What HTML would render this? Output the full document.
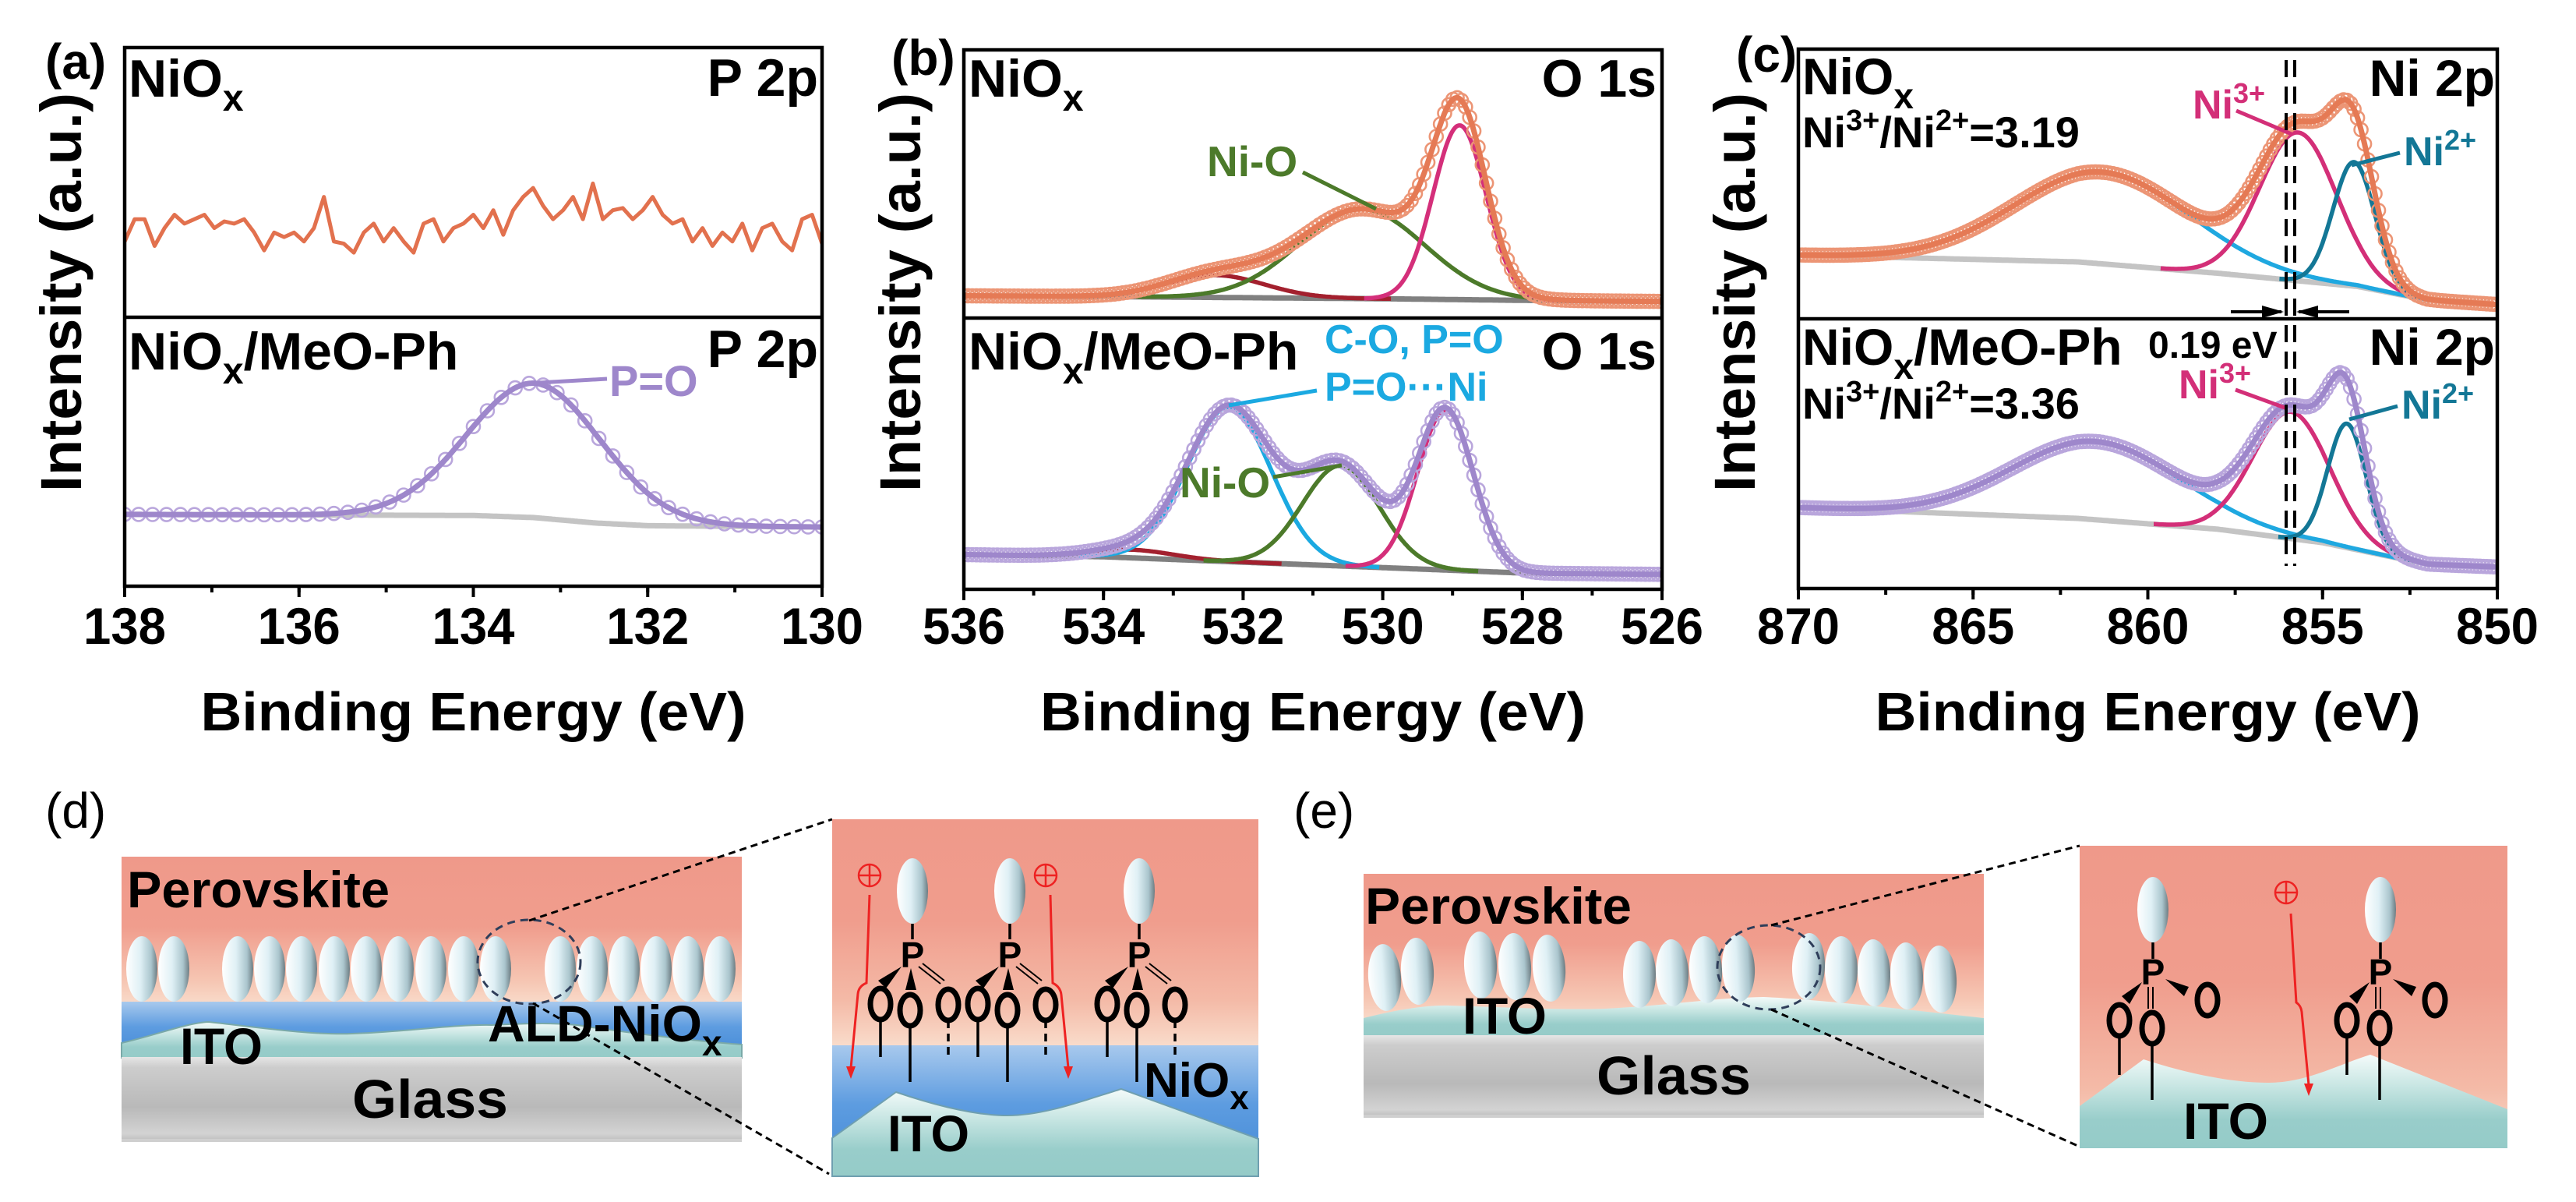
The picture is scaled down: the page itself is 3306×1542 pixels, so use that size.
<!DOCTYPE html>
<html><head><meta charset="utf-8"><title>XPS and schematic</title>
<style>
html,body{margin:0;padding:0;background:#fff;}
svg{display:block;font-family:"Liberation Sans",Arial,sans-serif;}
text{font-weight:bold;}
</style></head>
<body>
<svg id="chart" xmlns="http://www.w3.org/2000/svg" width="3306" height="1542" viewBox="0 0 3306 1542">
<defs>
<linearGradient id="ellG" x1="0" y1="0" x2="1" y2="0">
<stop offset="0" stop-color="#ffffff"/><stop offset="0.45" stop-color="#dff0f5"/><stop offset="0.8" stop-color="#aac5cd"/><stop offset="1" stop-color="#6d7c82"/></linearGradient>
<linearGradient id="perovD" x1="0" y1="0" x2="0" y2="1">
<stop offset="0" stop-color="#ef998a"/><stop offset="0.45" stop-color="#f09d8d"/><stop offset="0.8" stop-color="#f6c6b3"/><stop offset="1" stop-color="#fae3d3"/></linearGradient>
<linearGradient id="perovIn" x1="0" y1="0" x2="0" y2="1">
<stop offset="0" stop-color="#ef998a"/><stop offset="0.45" stop-color="#f09d8d"/><stop offset="0.8" stop-color="#f4baa7"/><stop offset="1" stop-color="#f9dccb"/></linearGradient>
<linearGradient id="blueG" x1="0" y1="0" x2="0" y2="1">
<stop offset="0" stop-color="#a8c9ed"/><stop offset="0.45" stop-color="#5d9ce0"/><stop offset="1" stop-color="#4389d6"/></linearGradient>
<linearGradient id="tealG" x1="0" y1="0" x2="0" y2="1">
<stop offset="0" stop-color="#f4fbfa"/><stop offset="0.35" stop-color="#c6e5e2"/><stop offset="0.7" stop-color="#98cdca"/><stop offset="1" stop-color="#95cbc8"/></linearGradient>
<linearGradient id="glassG" x1="0" y1="0" x2="0" y2="1">
<stop offset="0" stop-color="#e6e6e6"/><stop offset="0.12" stop-color="#cdcdcd"/><stop offset="0.6" stop-color="#b9b9b9"/><stop offset="0.92" stop-color="#d3d3d3"/><stop offset="1" stop-color="#bdbdbd"/></linearGradient>
<clipPath id="clipA"><rect x="160" y="61" width="895" height="691"/></clipPath>
<clipPath id="clipB"><rect x="1237" y="64" width="896" height="692"/></clipPath>
<clipPath id="clipC"><rect x="2308" y="63" width="897" height="692"/></clipPath>
</defs>

<text x="58" y="101" font-size="64">(a)</text>
<text x="1144" y="96" font-size="64">(b)</text>
<text x="2228" y="92" font-size="64">(c)</text>
<text x="58" y="1062" font-size="64" style="font-weight:normal">(d)</text>
<text x="1660" y="1062" font-size="64" style="font-weight:normal">(e)</text>

<g id="charts"></g>

<g font-size="68">
<text x="165" y="124">NiO<tspan font-size="48" dy="18">x</tspan></text>
<text x="1050" y="123" text-anchor="end">P 2p</text>
<text x="165" y="474">NiO<tspan font-size="48" dy="18">x</tspan><tspan dy="-18">/MeO-Ph</tspan></text>
<text x="1050" y="471" text-anchor="end">P 2p</text>
<text x="782" y="508" font-size="56" fill="#9e87cb">P=O</text>
<line x1="691" y1="491" x2="779" y2="486" stroke="#9e87cb" stroke-width="5"/>
</g>
<g font-size="68">
<text x="1243" y="124">NiO<tspan font-size="48" dy="18">x</tspan></text>
<text x="2126" y="124" text-anchor="end">O 1s</text>
<text x="1243" y="474">NiO<tspan font-size="48" dy="18">x</tspan><tspan dy="-18">/MeO-Ph</tspan></text>
<text x="2126" y="474" text-anchor="end">O 1s</text>
<text x="1549" y="226" font-size="55" fill="#4c7a2a">Ni-O</text>
<line x1="1672" y1="221" x2="1766" y2="268" stroke="#4c7a2a" stroke-width="5"/>
<text x="1700" y="453" font-size="52" fill="#1ba9e1">C-O, P=O</text>
<text x="1700" y="514" font-size="52" fill="#1ba9e1">P=O···Ni</text>
<line x1="1690" y1="501" x2="1577" y2="520" stroke="#1ba9e1" stroke-width="5"/>
<text x="1514" y="638" font-size="55" fill="#4c7a2a">Ni-O</text>
<line x1="1634" y1="612" x2="1722" y2="597" stroke="#4c7a2a" stroke-width="5"/>
</g>
<g font-size="66">
<text x="2313" y="121">NiO<tspan font-size="46" dy="18">x</tspan></text>
<text x="3202" y="123" text-anchor="end">Ni 2p</text>
<text x="2313" y="189" font-size="56">Ni<tspan font-size="38" dy="-22">3+</tspan><tspan dy="22">/Ni</tspan><tspan font-size="38" dy="-22">2+</tspan><tspan dy="22">=3.19</tspan></text>
<text x="2313" y="468">NiO<tspan font-size="46" dy="18">x</tspan><tspan dy="-18">/MeO-Ph</tspan></text>
<text x="3202" y="468" text-anchor="end">Ni 2p</text>
<text x="2313" y="537" font-size="56">Ni<tspan font-size="38" dy="-22">3+</tspan><tspan dy="22">/Ni</tspan><tspan font-size="38" dy="-22">2+</tspan><tspan dy="22">=3.36</tspan></text>
<text x="2757" y="459" font-size="48">0.19 eV</text>
<text x="2814" y="152" font-size="52" fill="#d32f78">Ni<tspan font-size="36" dy="-20">3+</tspan></text>
<line x1="2870" y1="142" x2="2941" y2="172" stroke="#d32f78" stroke-width="5"/>
<text x="3085" y="212" font-size="52" fill="#137796">Ni<tspan font-size="36" dy="-20">2+</tspan></text>
<line x1="3080" y1="196" x2="3018" y2="212" stroke="#137796" stroke-width="5"/>
<text x="2796" y="511" font-size="52" fill="#d32f78">Ni<tspan font-size="36" dy="-20">3+</tspan></text>
<line x1="2869" y1="500" x2="2935" y2="524" stroke="#d32f78" stroke-width="5"/>
<text x="3082" y="537" font-size="52" fill="#137796">Ni<tspan font-size="36" dy="-20">2+</tspan></text>
<line x1="3077" y1="521" x2="3015" y2="538" stroke="#137796" stroke-width="5"/>
<line x1="2934" y1="77" x2="2934" y2="726" stroke="#000" stroke-width="4" stroke-dasharray="22,12"/>
<line x1="2945" y1="77" x2="2945" y2="726" stroke="#000" stroke-width="4" stroke-dasharray="22,12"/>
<line x1="2863" y1="400" x2="2928" y2="400" stroke="#000" stroke-width="4"/>
<polygon points="2931,400 2903,392 2903,408" fill="#000"/>
<line x1="3015" y1="400" x2="2950" y2="400" stroke="#000" stroke-width="4"/>
<polygon points="2947,400 2975,392 2975,408" fill="#000"/>
</g>

<g>
<rect x="156" y="1099" width="796" height="200" fill="url(#perovD)"/>
<rect x="156" y="1285" width="796" height="72" fill="url(#blueG)"/>
<path d="M156,1338 C200,1328 240,1312 268,1311 C330,1318 400,1328 452,1326 C520,1324 580,1314 631,1315 C690,1312 730,1312 760,1318 C830,1328 900,1336 952,1340 L952,1357 L156,1357 Z" fill="url(#tealG)" stroke="#7aa9a8" stroke-width="2"/>
<rect x="156" y="1356" width="796" height="107" fill="url(#glassG)"/>
<line x1="156" y1="1463" x2="952" y2="1463" stroke="#cfcfcf" stroke-width="4"/>
<g id="dEllipses"></g>
<ellipse cx="679" cy="1234" rx="66" ry="54" fill="none" stroke="#2f3e5a" stroke-width="3" stroke-dasharray="10,7"/>
<line x1="679" y1="1181" x2="1068" y2="1051" stroke="#000" stroke-width="3" stroke-dasharray="9,6"/>
<line x1="684" y1="1287" x2="1064" y2="1506" stroke="#000" stroke-width="3" stroke-dasharray="9,6"/>
<text x="163" y="1164" font-size="66" textLength="337" lengthAdjust="spacingAndGlyphs">Perovskite</text>
<text x="231" y="1365" font-size="66" textLength="106" lengthAdjust="spacingAndGlyphs">ITO</text>
<text x="626" y="1336" font-size="66">ALD-NiO<tspan font-size="46" dy="18">x</tspan></text>
<text x="452" y="1434" font-size="70" textLength="200" lengthAdjust="spacingAndGlyphs">Glass</text>

<rect x="1068" y="1051" width="547" height="291" fill="url(#perovIn)"/>
<rect x="1068" y="1341" width="547" height="168" fill="url(#blueG)"/>
<path d="M1068,1460 L1150,1401 C1200,1418 1250,1431 1293,1431 C1340,1431 1390,1412 1439,1397 L1615,1461 L1615,1509 L1068,1509 Z" fill="url(#tealG)" stroke="#6f9fb0" stroke-width="2"/>
<g id="dInset"></g>
<text x="1468" y="1407" font-size="62">NiO<tspan font-size="44" dy="16">x</tspan></text>
<text x="1139" y="1477" font-size="66" textLength="105" lengthAdjust="spacingAndGlyphs">ITO</text>
</g>

<g>
<rect x="1750" y="1121" width="796" height="200" fill="url(#perovD)"/>
<path d="M1750,1306 C1790,1296 1830,1289 1861,1290 C1930,1292 2000,1296 2060,1294 C2140,1290 2200,1280 2263,1279 C2330,1282 2420,1292 2546,1306 L2546,1329 L1750,1329 Z" fill="url(#tealG)"/>
<rect x="1750" y="1328" width="796" height="104" fill="url(#glassG)"/>
<line x1="1750" y1="1432" x2="2546" y2="1432" stroke="#cfcfcf" stroke-width="4"/>
<g id="eEllipses"></g>
<ellipse cx="2270" cy="1241" rx="66" ry="54" fill="none" stroke="#2f3e5a" stroke-width="3" stroke-dasharray="10,7"/>
<line x1="2273" y1="1187" x2="2669" y2="1085" stroke="#000" stroke-width="3" stroke-dasharray="9,6"/>
<line x1="2273" y1="1295" x2="2669" y2="1471" stroke="#000" stroke-width="3" stroke-dasharray="9,6"/>
<text x="1752" y="1185" font-size="66" textLength="342" lengthAdjust="spacingAndGlyphs">Perovskite</text>
<text x="1877" y="1326" font-size="66" textLength="108" lengthAdjust="spacingAndGlyphs">ITO</text>
<text x="2049" y="1404" font-size="70" textLength="198" lengthAdjust="spacingAndGlyphs">Glass</text>

<rect x="2669" y="1085" width="549" height="388" fill="url(#perovIn)"/>
<path d="M2669,1419 L2751,1359 C2800,1375 2860,1389 2911,1389 C2960,1389 3000,1366 3042,1353 L3218,1423 L3218,1473 L2669,1473 Z" fill="url(#tealG)"/>
<g id="eInset"></g>
<text x="2802" y="1461" font-size="66" textLength="109" lengthAdjust="spacingAndGlyphs">ITO</text>
</g>
</svg>

<script>
const aTopCounts=[460,510,510,450,490,520,500,510,520,490,505,500,510,480,440,480,470,480,460,490,560,460,455,435,480,500,460,490,460,435,500,510,460,490,500,520,490,530,475,530,560,580,540,510,530,560,510,590,510,530,535,510,530,560,520,500,510,460,490,450,480,460,500,440,490,500,460,440,510,520,455];
const aBotBgE=[138,134,133.3,132.6,132,130];
const aBotBgV=[0.267,0.263,0.255,0.235,0.225,0.22];
const aBotCenters=[133.3];
const aBotHeights=[0.5];
const aBotWidths=[0.77];
const bTopBgE=[536,534,530,528,526];
const bTopBgV=[0.083,0.08,0.072,0.066,0.062];
const bTopCenters=[532.4,530.3,528.9];
const bTopHeights=[0.083,0.333,0.65];
const bTopWidths=[0.7,0.9,0.38];
const bBotBgE=[536,534,532,530,528,526];
const bBotBgV=[0.128,0.12,0.1,0.08,0.06,0.055];
const bBotCenters=[533.6,532.2,530.6,529.1];
const bBotHeights=[0.03,0.57,0.37,0.59];
const bBotWidths=[0.6,0.6,0.55,0.4];
const cTopBgE=[870,862,858,854,852,850];
const cTopBgV=[0.236,0.211,0.169,0.12,0.07,0.053];
const cTopCenters=[861.3,855.7,854.1];
const cTopHeights=[0.34,0.55,0.46];
const cTopWidths=[2.5,1.1,0.6];
const cBotBgE=[870,862,858,855,852,850];
const cBotBgV=[0.30,0.26,0.22,0.17,0.09,0.08];
const cBotCenters=[861.5,855.9,854.3];
const cBotHeights=[0.29,0.47,0.46];
const cBotWidths=[2.4,1.1,0.55];
const aTicks=[138,136,134,132,130];
const bTicks=[536,534,532,530,528,526];
const cTicks=[870,865,860,855,850];

const NS='http://www.w3.org/2000/svg';
const root=document.getElementById('charts');
function mk(tag,attrs,parent){const e=document.createElementNS(NS,tag);for(const k in attrs)e.setAttribute(k,attrs[k]);(parent||root).appendChild(e);return e;}

const PA={x0:160,x1:1055,top:61,mid:407,bot:752,e0:138,e1:130,clip:'clipA',minor:1};
const PB={x0:1237,x1:2133,top:64,mid:408,bot:756,e0:536,e1:526,clip:'clipB',minor:1};
const PC={x0:2308,x1:3205,top:63,mid:409,bot:755,e0:870,e1:850,clip:'clipC',minor:2.5};

function xOf(P,E){return P.x0+(E-P.e0)/(P.e1-P.e0)*(P.x1-P.x0);}
function yOf(P,sub,f){const y0=sub==='top'?P.mid:P.bot;const h=sub==='top'?P.mid-P.top:P.bot-P.mid;return y0-f*h;}
function interp(xs,vs,E){
  for(let i=0;i<xs.length-1;i++){const a=xs[i],b=xs[i+1];if((E<=a&&E>=b)){const t=(a-E)/(a-b);return vs[i]+t*(vs[i+1]-vs[i]);}}
  return E>xs[0]?vs[0]:vs[vs.length-1];
}
function g(E,c,h,s){return h*Math.exp(-0.5*((E-c)/s)*((E-c)/s));}

function drawAxes(P,ticks,name){
  const fr=mk('rect',{x:P.x0,y:P.top,width:P.x1-P.x0,height:P.bot-P.top,fill:'none',stroke:'#000','stroke-width':4.5});
  
  
  const dv=mk('line',{x1:P.x0,y1:P.mid,x2:P.x1,y2:P.mid,stroke:'#000','stroke-width':4.5});
  
  
  const lo=Math.min(P.e0,P.e1),hi=Math.max(P.e0,P.e1);
  for(let E=lo;E<=hi+1e-6;E+=P.minor){
    const x=xOf(P,E);
    const t=mk('line',{x1:x,y1:P.bot,x2:x,y2:P.bot+8,stroke:'#000','stroke-width':4});
    
    
  }
  ticks.forEach(v=>{
    const x=xOf(P,v);
    const t=mk('line',{x1:x,y1:P.bot,x2:x,y2:P.bot+14,stroke:'#000','stroke-width':4});
    
    
    const lb=mk('text',{x:x,y:826,'font-size':66,'text-anchor':'middle',textLength:106,lengthAdjust:'spacingAndGlyphs'});
    lb.textContent=String(v);
    
    
  });
  const xt=mk('text',{x:(P.x0+P.x1)/2,y:937,'font-size':70,'text-anchor':'middle',textLength:700,lengthAdjust:'spacingAndGlyphs'});
  xt.textContent='Binding Energy (eV)';
  
  
  const cx=P.x0-56, cy=375;
  const yt=mk('text',{x:cx,y:cy,'font-size':74,'text-anchor':'middle',transform:'rotate(-90 '+cx+' '+cy+')',textLength:512,lengthAdjust:'spacingAndGlyphs'});
  yt.textContent='Intensity (a.u.)';
  
  
}

function pathFrom(pts){return 'M'+pts.map(p=>p[0].toFixed(1)+','+p[1].toFixed(1)).join(' L');}

function drawFit(P,sub,bgE,bgV,centers,heights,widths,compColors,envColor,ptColor,bgColor,ptStep,name){
  const grp=mk('g',{'clip-path':'url(#'+P.clip+')'});
  
  
  const step=(P.e1-P.e0)/600;
  const Es=[];for(let i=0;i<=600;i++)Es.push(P.e0+i*step);
  const bgPts=Es.map(E=>[xOf(P,E),yOf(P,sub,interp(bgE,bgV,E))]);
  const bl=mk('path',{d:pathFrom(bgPts),fill:'none',stroke:bgColor,'stroke-width':7,'stroke-linejoin':'round'},grp);
  
  
  centers.forEach((c,k)=>{
    if(!compColors[k])return;
    const pts=Es.filter(E=>Math.abs(E-c)<3.6*widths[k]).map(E=>[xOf(P,E),yOf(P,sub,interp(bgE,bgV,E)+g(E,c,heights[k],widths[k]))]);
    const cl=mk('path',{d:pathFrom(pts),fill:'none',stroke:compColors[k],'stroke-width':5.5,'stroke-linejoin':'round'},grp);
    
    
  });
  const env=E=>{let v=interp(bgE,bgV,E);centers.forEach((c,k)=>{v+=g(E,c,heights[k],widths[k]);});return v;};
  const n=Math.round(Math.abs(P.e1-P.e0)/ptStep);
  for(let i=0;i<=n;i++){
    const E=P.e0+(P.e1-P.e0)*i/n;
    const pt=mk('circle',{cx:xOf(P,E),cy:yOf(P,sub,env(E)),r:8.5,fill:'none',stroke:ptColor,'stroke-width':2.6},grp);
    
    
  }
  const envPts=Es.map(E=>[xOf(P,E),yOf(P,sub,env(E))]);
  const el=mk('path',{d:pathFrom(envPts),fill:'none',stroke:envColor,'stroke-width':7,'stroke-linejoin':'round'},grp);
  
  
}

(function(){
  const grp=mk('g',{'clip-path':'url(#clipA)'});
  
  
  const n=aTopCounts.length-1;
  const pts=aTopCounts.map((c,i)=>{const E=PA.e0+(PA.e1-PA.e0)*i/n;return [xOf(PA,E),PA.mid-(c-290)*(PA.mid-PA.top)/605];});
  const ln=mk('path',{d:pathFrom(pts),fill:'none',stroke:'#e2714e','stroke-width':5,'stroke-linejoin':'round'},grp);
  
  
})();
drawFit(PA,'bot',aBotBgE,aBotBgV,aBotCenters,aBotHeights,aBotWidths,[null],'#9e87cb','#b9a6dc','#c4c4c4',0.16,'panel-a-meo-spectrum');
drawFit(PB,'top',bTopBgE,bTopBgV,bTopCenters,bTopHeights,bTopWidths,['#a3202e','#4c7a2a','#d42f7a'],'#e57a55','#ec9575','#808080',0.06,'panel-b-nio-spectrum');
drawFit(PB,'bot',bBotBgE,bBotBgV,bBotCenters,bBotHeights,bBotWidths,['#a3202e','#1ba9e1','#4c7a2a','#d42f7a'],'#9e87cb','#b9a6dc','#808080',0.06,'panel-b-meo-spectrum');
drawFit(PC,'top',cTopBgE,cTopBgV,cTopCenters,cTopHeights,cTopWidths,['#1fa8e0','#d32f78','#137796'],'#e57a55','#ec9575','#c4c4c4',0.1,'panel-c-nio-spectrum');
drawFit(PC,'bot',cBotBgE,cBotBgV,cBotCenters,cBotHeights,cBotWidths,['#1fa8e0','#d32f78','#137796'],'#9e87cb','#b9a6dc','#c4c4c4',0.1,'panel-c-meo-spectrum');
drawAxes(PA,aTicks,'panel-a');
drawAxes(PB,bTicks,'panel-b');
drawAxes(PC,cTicks,'panel-c');

function ell(parent,cx,cy,rx,ry,rot){
  const e=mk('ellipse',{cx:cx,cy:cy,rx:rx,ry:ry,fill:'url(#ellG)',transform:'rotate('+(rot||0)+' '+cx+' '+cy+')'},parent);
  
  
}
const dGrp=document.getElementById('dEllipses');
[182,223,305,346,387,429,470,511,553,595,636,719,760,801,842,883,924].forEach(x=>ell(dGrp,x,1243,20,42,0));
const eGrp=document.getElementById('eEllipses');
[[1777,1254,-4],[1819,1246,-3],[1900,1238,-2],[1944,1240,-3],[1988,1242,-4],[2104,1250,0],[2146,1248,-2],[2189,1244,-3],[2231,1242,-3],[2321,1240,2],[2363,1244,0],[2405,1248,-2],[2447,1252,-2],[2490,1256,-3]].forEach(p=>ell(eGrp,p[0],p[1],21,43,p[2]));

function oAtom(parent,x,y){
  const o=mk('ellipse',{cx:x,cy:y,rx:13,ry:20,fill:'none',stroke:'#000','stroke-width':7},parent);
  
  
}
function line(parent,x1,y1,x2,y2,w,dash,color){
  const l=mk('line',{x1:x1,y1:y1,x2:x2,y2:y2,stroke:color||'#000','stroke-width':w||3.5},parent);
  if(dash)l.setAttribute('stroke-dasharray',dash);
  
  
}
function pAtom(parent,x,y){
  const t=mk('text',{x:x,y:y+16,'font-size':46,'text-anchor':'middle'},parent);
  t.textContent='P';
  
  
}
function wedge(parent,pts){
  const w=mk('polygon',{points:pts,fill:'#000'},parent);
  
  
}
function hole(parent,x,y,path){
  const c=mk('circle',{cx:x,cy:y,r:14,fill:'none',stroke:'#ee2222','stroke-width':2.5},parent);
  
  
  line(parent,x-14,y,x+14,y,2.5,null,'#ee2222');
  line(parent,x,y-14,x,y+14,2.5,null,'#ee2222');
  const p=mk('path',{d:path,fill:'none',stroke:'#ee2222','stroke-width':3},parent);
  
  
}
function arrowHead(parent,x,y){
  const a=mk('polygon',{points:(x-6)+','+(y-16)+' '+(x+6)+','+(y-16)+' '+x+','+y,fill:'#ee2222'},parent);
  
  
}

const dIn=document.getElementById('dInset');
[1171,1296,1462].forEach(m=>{
  ell(dIn,m,1143,20,42,0);
  line(dIn,m,1185,m,1205,3.5);
  pAtom(dIn,m,1225);
  wedge(dIn,(m-14)+','+1240+' '+(m-44)+','+1258+' '+(m-34)+','+1268);
  wedge(dIn,(m-2)+','+1242+' '+(m-9)+','+1270+' '+(m+5)+','+1270);
  line(dIn,m+8,1240,m+36,1262,2);
  line(dIn,m+13,1236,m+41,1258,2);
  oAtom(dIn,m-41,1288); oAtom(dIn,m-3,1296); oAtom(dIn,m+46,1289);
  line(dIn,m-41,1308,m-41,1356,3.5);
  line(dIn,m-3,1316,m-3,1388,3.5);
  line(dIn,m+46,1309,m+46,1355,3.5,'10,7');
});
hole(dIn,1116,1123,'M1116,1148 L1112,1261 Q1102,1265 1101,1275 L1092,1370');
arrowHead(dIn,1092,1384);
hole(dIn,1342,1123,'M1348,1148 L1351,1261 Q1361,1266 1362,1276 L1371,1370');
arrowHead(dIn,1371,1384);

const eIn=document.getElementById('eInset');
[2763,3055].forEach(m=>{
  ell(eIn,m,1167,20,42,0);
  line(eIn,m,1209,m,1230,3.5);
  pAtom(eIn,m,1247);
  wedge(eIn,(m-14)+','+1260+' '+(m-40)+','+1278+' '+(m-30)+','+1288);
  wedge(eIn,(m+16)+','+1256+' '+(m+46)+','+1266+' '+(m+40)+','+1278);
  line(eIn,m-6,1266,m-6,1294,2);
  line(eIn,m,1266,m,1294,2);
  oAtom(eIn,m-43,1309); oAtom(eIn,m-1,1319); oAtom(eIn,m+70,1283);
  line(eIn,m-43,1329,m-43,1379,3.5);
  line(eIn,m-1,1339,m-1,1411,3.5);
});
hole(eIn,2934,1145,'M2940,1172 L2947,1286 Q2953,1290 2954,1298 L2963,1392');
arrowHead(eIn,2963,1406);
</script>
</body></html>
